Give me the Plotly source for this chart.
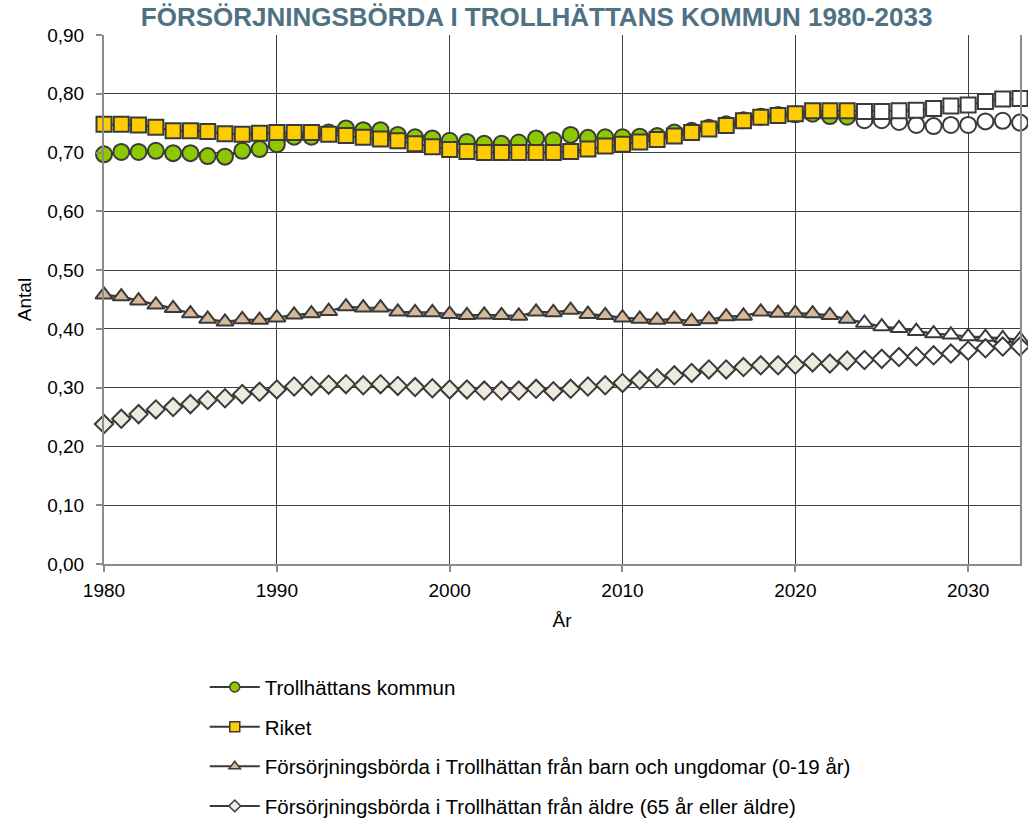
import plotly.graph_objects as go

years = list(range(1980, 2034))

trollhattan = [0.697, 0.701, 0.701, 0.703, 0.699, 0.699, 0.694, 0.693, 0.703, 0.706,
               0.714, 0.727, 0.727, 0.734, 0.741, 0.738, 0.738, 0.730, 0.726, 0.724,
               0.720, 0.718, 0.715, 0.715, 0.717, 0.724, 0.721, 0.730, 0.725, 0.726,
               0.726, 0.727, 0.728, 0.734, 0.737, 0.742, 0.748, 0.755, 0.761, 0.764,
               0.765, 0.766, 0.762, 0.761, 0.755, 0.755, 0.752, 0.747, 0.745, 0.747,
               0.747, 0.753, 0.754, 0.751]

riket = [0.748, 0.748, 0.747, 0.743, 0.737, 0.737, 0.736, 0.732, 0.731, 0.733,
         0.734, 0.734, 0.734, 0.731, 0.729, 0.726, 0.723, 0.720, 0.715, 0.710,
         0.705, 0.702, 0.700, 0.700, 0.700, 0.700, 0.700, 0.702, 0.706, 0.711,
         0.714, 0.718, 0.722, 0.728, 0.734, 0.740, 0.746, 0.754, 0.760, 0.763,
         0.766, 0.771, 0.771, 0.771, 0.770, 0.770, 0.771, 0.772, 0.775, 0.779,
         0.781, 0.787, 0.791, 0.792]

barn = [0.458, 0.455, 0.448, 0.441, 0.435, 0.426, 0.417, 0.412, 0.416, 0.415,
        0.419, 0.424, 0.426, 0.430, 0.438, 0.436, 0.436, 0.429, 0.428, 0.428,
        0.425, 0.423, 0.424, 0.423, 0.422, 0.429, 0.428, 0.432, 0.425, 0.423,
        0.419, 0.417, 0.415, 0.417, 0.413, 0.416, 0.421, 0.422, 0.429, 0.427,
        0.427, 0.426, 0.423, 0.417, 0.410, 0.404, 0.401, 0.396, 0.392, 0.390,
        0.387, 0.386, 0.384, 0.382]

aldre = [0.238, 0.247, 0.255, 0.263, 0.267, 0.272, 0.279, 0.282, 0.289, 0.293,
         0.297, 0.302, 0.303, 0.305, 0.306, 0.304, 0.306, 0.303, 0.301, 0.299,
         0.297, 0.297, 0.295, 0.295, 0.295, 0.298, 0.294, 0.298, 0.302, 0.304,
         0.308, 0.313, 0.316, 0.321, 0.325, 0.331, 0.331, 0.335, 0.338, 0.338,
         0.339, 0.343, 0.341, 0.346, 0.347, 0.349, 0.352, 0.353, 0.355, 0.358,
         0.363, 0.367, 0.370, 0.370]

names = ["Trollhättans kommun", "Riket",
         "Försörjningsbörda i Trollhättan från barn och ungdomar (0-19 år)",
         "Försörjningsbörda i Trollhättan från äldre (65 år eller äldre)"]

last_actual_year = 2023

fills = ["#8DC800", "#FFCC00", "#D8B89A", "#EEEADD"]
symbols = ["circle", "square", "triangle-up", "diamond"]
sizes = [16, 15, 15, 14]
legend_sizes = [10, 10, 10, 9]
series = [trollhattan, riket, barn, aldre]

edge = "#3A3A3A"
FONT = "Liberation Sans, Arial, sans-serif"

fig = go.Figure()
for i, (nm, vals) in enumerate(zip(names, series)):
    colors = [fills[i] if y <= last_actual_year else "#FFFFFF" for y in years]
    fig.add_trace(go.Scatter(
        x=years, y=vals, name=nm, mode="lines+markers",
        line=dict(color=edge, width=2.2),
        marker=dict(symbol=symbols[i], size=sizes[i], color=colors,
                    line=dict(color=edge, width=2)),
        cliponaxis=False, legendgroup=str(i), showlegend=False,
    ))
# legend entries (small symbols like the reference legend)
for i, nm in enumerate(names):
    fig.add_trace(go.Scatter(
        x=[None], y=[None], name=nm, mode="lines+markers",
        line=dict(color=edge, width=2),
        marker=dict(symbol=symbols[i], size=legend_sizes[i], color=fills[i],
                    line=dict(color=edge, width=1.5)),
        legendgroup=str(i), showlegend=True,
    ))

fig.update_layout(
    width=1028, height=818,
    margin=dict(l=104, r=8, t=35, b=254, autoexpand=False),
    paper_bgcolor="white", plot_bgcolor="white",
    separators=", ",
    font=dict(family=FONT, size=19, color="#000000"),
    title=dict(text="<b>FÖRSÖRJNINGSBÖRDA I TROLLHÄTTANS KOMMUN 1980-2033</b>",
               font=dict(family=FONT, size=26, color="#4E7283"),
               x=0.522, xanchor="center", xref="container",
               y=0.979, yanchor="middle", yref="container"),
    showlegend=True,
    legend=dict(x=0.110, y=-0.195, xanchor="left", yanchor="top",
                traceorder="grouped", tracegroupgap=10, itemwidth=50,
                font=dict(size=20.5), bgcolor="rgba(0,0,0,0)"),
    xaxis=dict(range=[1980, 2033], tick0=1980, dtick=10, showgrid=True,
               gridcolor="#404040", gridwidth=1, showline=True, linecolor="#8C8C8C",
               linewidth=2, mirror=False, ticks="outside", ticklen=6, tickcolor="#8C8C8C",
               tickwidth=2, zeroline=False, ticklabelstandoff=2,
               title=dict(text="År", font=dict(size=19), standoff=14)),
    yaxis=dict(range=[0, 0.9], dtick=0.1, tickformat=".2f", showgrid=True,
               gridcolor="#404040", gridwidth=1, showline=True, linecolor="#8C8C8C",
               linewidth=2, mirror=True, ticks="outside", ticklen=6, tickcolor="#8C8C8C",
               tickwidth=2, zeroline=False, ticklabelstandoff=8,
               title=dict(text="Antal", font=dict(size=19), standoff=11)),
)

fig.write_html("out.html",
               config={"displayModeBar": False},
               post_script="document.body.style.margin='0';document.body.style.overflow='hidden';")
